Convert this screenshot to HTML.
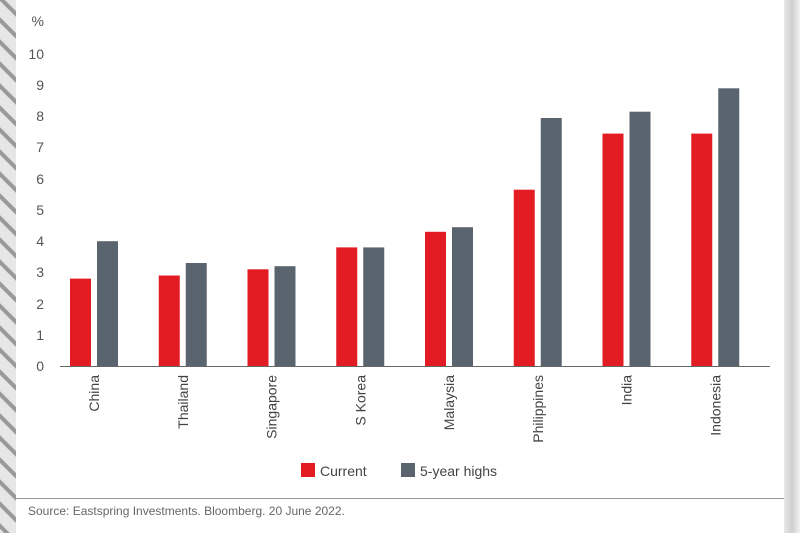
<!DOCTYPE html>
<html><head><meta charset="utf-8"><style>
body{margin:0;background:#fff;}
svg{display:block;font-family:"Liberation Sans",sans-serif;}
</style></head><body>
<svg width="800" height="533" viewBox="0 0 800 533">
<defs>
<pattern id="st" width="16" height="22" patternUnits="userSpaceOnUse">
<rect width="16" height="22" fill="#e6e6e6"/>
<path d="M-4,-6 L20,18 M-4,16 L20,40 M-4,-28 L20,-4" stroke="#999" stroke-width="4"/>
</pattern>
<linearGradient id="rg" x1="0" x2="1"><stop offset="0" stop-color="#e8e8e8"/><stop offset="0.5" stop-color="#cfcfcf"/><stop offset="1" stop-color="#f0f0f0"/></linearGradient>
</defs>
<rect x="0" y="0" width="16" height="533" fill="url(#st)"/>
<rect x="784" y="0" width="16" height="533" fill="url(#rg)"/>
<g fill="#555" font-size="14" text-anchor="end">
<text x="44" y="26">%</text>
<text x="44" y="59">10</text><text x="44" y="90">9</text><text x="44" y="121">8</text>
<text x="44" y="152">7</text><text x="44" y="184">6</text><text x="44" y="215">5</text>
<text x="44" y="246">4</text><text x="44" y="277">3</text><text x="44" y="309">2</text>
<text x="44" y="340">1</text><text x="44" y="371">0</text>
</g>
<g fill="#e31b23">
<rect x="70" y="278.6" width="21" height="87.4"/>
<rect x="158.75" y="275.5" width="21" height="90.5"/>
<rect x="247.5" y="269.3" width="21" height="96.7"/>
<rect x="336.25" y="247.4" width="21" height="118.6"/>
<rect x="425" y="231.8" width="21" height="134.2"/>
<rect x="513.75" y="189.7" width="21" height="176.3"/>
<rect x="602.5" y="133.6" width="21" height="232.4"/>
<rect x="691.25" y="133.6" width="21" height="232.4"/>
</g>
<g fill="#5a646e">
<rect x="97" y="241.2" width="21" height="124.8"/>
<rect x="185.75" y="263" width="21" height="103"/>
<rect x="274.5" y="266.2" width="21" height="99.8"/>
<rect x="363.25" y="247.4" width="21" height="118.6"/>
<rect x="452" y="227.2" width="21" height="138.8"/>
<rect x="540.75" y="118" width="21" height="248"/>
<rect x="629.5" y="111.7" width="21" height="254.3"/>
<rect x="718.25" y="88.3" width="21" height="277.7"/>
</g>
<g font-size="14" fill="#444" text-anchor="end">
<text transform="translate(99,375) rotate(-90)">China</text>
<text transform="translate(187.75,375) rotate(-90)">Thailand</text>
<text transform="translate(276.5,375) rotate(-90)">Singapore</text>
<text transform="translate(365.25,375) rotate(-90)">S Korea</text>
<text transform="translate(454,375) rotate(-90)">Malaysia</text>
<text transform="translate(542.75,375) rotate(-90)">Philippines</text>
<text transform="translate(631.5,375) rotate(-90)">India</text>
<text transform="translate(720.25,375) rotate(-90)">Indonesia</text>
</g>
<line x1="60" y1="366.5" x2="770" y2="366.5" stroke="#666" stroke-width="1"/>
<g font-size="14" fill="#444">
<rect x="301" y="463" width="14" height="14" fill="#e31b23"/>
<text x="320" y="476">Current</text>
<rect x="401" y="463" width="14" height="14" fill="#5a646e"/>
<text x="420" y="476">5-year highs</text>
</g>
<line x1="16" y1="498.5" x2="784" y2="498.5" stroke="#999" stroke-width="1"/>
<text x="28" y="515" font-size="12" fill="#666">Source: Eastspring Investments. Bloomberg. 20 June 2022.</text>
</svg>
</body></html>
